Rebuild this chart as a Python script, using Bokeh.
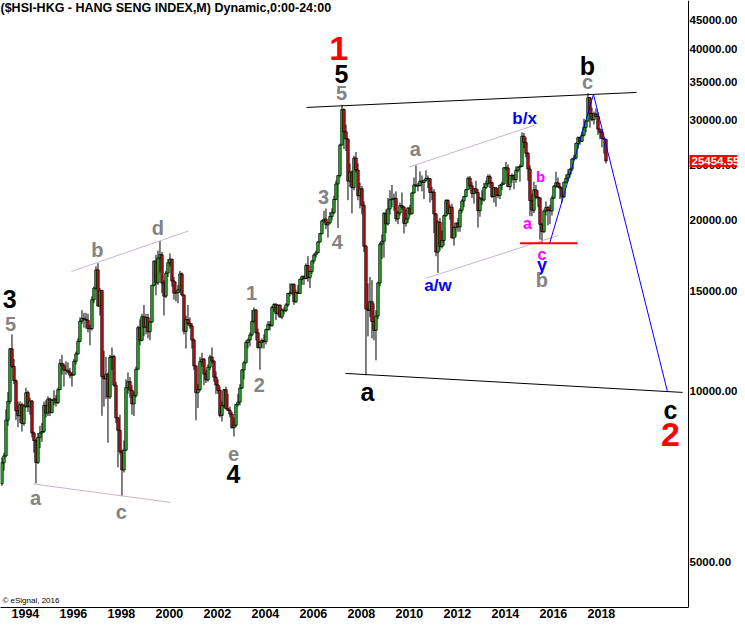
import numpy as np
import pandas as pd
from bokeh.plotting import figure
from bokeh.models import (ColumnDataSource, Label, FixedTicker, NumeralTickFormatter,
                          CustomJSTickFormatter, Range1d)
from bokeh.embed import file_html
from bokeh.resources import INLINE

# ---------------- data: HSI monthly OHLC, Aug 1993 .. Oct 2018 ----------------
start_month = "1993-08"

opens = [
    6880, 7490, 7700, 8900, 9600,
    11888, 11066, 10446, 9250, 9065, 9475, 8780, 9420, 9950, 9400, 9620, 8450,
    8191, 7500, 8300, 8450, 8500, 9450, 9160, 9700, 9180, 9650, 9700, 9550,
    10073, 11200, 11100, 10900, 10900, 10820, 10680, 10700, 11300, 11640, 12250, 13300,
    13451, 13400, 13350, 12900, 12900, 14500, 15196, 16365, 14135, 15050, 10623, 10527,
    10723, 9778, 11480, 11518, 10255, 8985, 8543, 7830, 7275, 7883, 10154, 10402,
    10048, 9506, 9840, 10942, 12951, 12304, 13532, 12973, 13486, 12734, 13256, 15378,
    16962, 15532, 17170, 17406, 15519, 14713, 16155, 16841, 17097, 15648, 14895, 14937,
    15096, 16102, 14787, 12761, 13386, 13174, 13043, 12316, 11091, 9951, 10073, 11279,
    11397, 10726, 10482, 11033, 11497, 11302, 10598, 10268, 10043, 9072, 9441, 10070,
    9321, 9258, 9123, 8634, 8717, 9487, 9577, 10135, 10909, 11230, 12190, 12317,
    12576, 13289, 13908, 12682, 11943, 12199, 12286, 12239, 12851, 13121, 13055, 14060,
    14230, 13721, 14196, 13517, 13909, 13868, 14201, 14880, 14903, 15429, 14386, 14937,
    14876, 15753, 15918, 15805, 16661, 15857, 16267, 16971, 17392, 17543, 18324, 18960,
    19965, 20107, 19652, 19801, 20318, 20635, 21773, 23185, 23984, 27143, 31352, 28643,
    27813, 23456, 24332, 22849, 25755, 24533, 22102, 22731, 21262, 18016, 13969, 13888,
    14387, 13278, 12812, 13576, 15521, 18171, 18379, 20573, 19724, 20955, 21753, 21822,
    21873, 20122, 20609, 21239, 21108, 19765, 20129, 21030, 20536, 22358, 23096, 23008,
    23035, 23447, 23338, 23528, 23721, 23684, 22398, 22440, 20535, 17592, 19864, 17989,
    18434, 20390, 21680, 20556, 21094, 18630, 19441, 19796, 19482, 20840, 21642, 22030,
    22657, 23730, 23020, 22300, 22737, 22392, 20803, 21884, 21731, 22860, 23206, 23882,
    23306, 22035, 22837, 22151, 22134, 23082, 23191, 24757, 24742, 22933, 23998, 23987,
    23605, 24507, 24823, 24901, 28133, 27424, 26250, 24636, 21670, 20846, 22640, 21996,
    21914, 19683, 19112, 20777, 21067, 20815, 20794, 21891, 22977, 23297, 22935, 22790,
    22001, 23361, 23741, 24112, 24615, 25661, 25765, 27324, 27970, 27554, 28246, 29177,
    29919, 32887, 30845, 30093, 30808, 30469, 28955, 28583, 27889, 27789,
]

highs = [
    7650, 7800, 9300, 9980, 11900,
    12599, 11400, 10500, 9600, 9600, 9550, 9500, 10150, 10030, 9750, 9650, 8500,
    8250, 8450, 8700, 8800, 9600, 9650, 9800, 9750, 9700, 10050, 9850, 10150,
    11400, 11600, 11200, 11300, 11250, 11000, 10800, 11400, 11750, 12400, 13500, 13900,
    13750, 13750, 13700, 13100, 14700, 15300, 16600, 16820, 15200, 15100, 11800, 11500,
    10800, 11600, 11950, 11600, 10400, 9000, 9100, 7900, 8200, 10500, 10800, 10600,
    10250, 10000, 11050, 13050, 13400, 13700, 14200, 13700, 13700, 13300, 15400, 17000,
    17400, 17700, 18397, 17600, 15700, 16300, 17100, 17500, 17100, 15900, 15600, 15400,
    16300, 16200, 14800, 13600, 14200, 13500, 13200, 12400, 11100, 10300, 11500, 11700,
    11450, 10900, 11150, 11600, 11950, 11350, 10850, 10500, 10200, 9600, 10100, 10200,
    9900, 9400, 9200, 9000, 9500, 9900, 10300, 10950, 11300, 12300, 12400, 12700,
    13900, 14058, 13950, 12900, 12300, 12400, 12600, 12900, 13300, 13300, 14150, 14300,
    14300, 14200, 14200, 14000, 14050, 14300, 14900, 15500, 15500, 15500, 15100, 15400,
    15800, 16000, 16000, 16800, 17300, 16300, 17000, 17500, 17700, 18400, 19000, 20050,
    20800, 21000, 19900, 20700, 21000, 22100, 23500, 24000, 27300, 31958, 31500, 29500,
    27900, 25200, 24500, 26000, 26387, 25200, 23300, 23000, 21600, 18100, 15500, 15900,
    15700, 14300, 13900, 15600, 18300, 18900, 20700, 20900, 21900, 22600, 23100, 22300,
    22500, 20800, 21500, 22400, 21200, 20900, 21100, 21300, 22400, 23800, 24988, 23300,
    24400, 24000, 23600, 24500, 24000, 23750, 22900, 22700, 20600, 20000, 20200, 19200,
    20500, 21800, 21800, 21300, 21400, 19500, 19800, 20200, 21000, 21800, 22100, 22700,
    23900, 23950, 23350, 22800, 23500, 22700, 22000, 22600, 23300, 23500, 24100, 24100,
    23400, 22900, 22900, 22800, 23100, 23400, 24800, 25362, 25100, 24000, 24200, 24100,
    24900, 24900, 25100, 28588, 28500, 28000, 26400, 25000, 22300, 23400, 23100, 22600,
    21950, 19800, 20900, 21600, 21200, 21300, 22100, 23100, 24364, 23800, 23300, 22900,
    23400, 24100, 24600, 24700, 25700, 26100, 27400, 28100, 28100, 28700, 30200, 30000,
    33484, 33000, 31600, 31100, 31500, 31000, 29000, 28900, 28000, 27800,
]

lows = [
    6820, 7250, 7650, 8700, 9500,
    11000, 10300, 8900, 8650, 8800, 8500, 8700, 9350, 9200, 9100, 8300, 7800,
    6890, 7450, 7950, 8150, 8450, 9000, 9050, 9050, 9150, 9450, 9400, 9500,
    10050, 10700, 10200, 10700, 10750, 10550, 10200, 10650, 11150, 11600, 12200, 13150,
    12950, 12900, 12700, 12055, 12800, 14300, 15100, 14100, 13600, 9059, 9400, 9700,
    8121, 9700, 10900, 10200, 8800, 7350, 7750, 6544, 7200, 7850, 9900, 9750,
    9100, 9050, 9750, 10900, 12050, 12250, 12500, 12600, 12400, 12300, 13200, 15300,
    14763, 15400, 16200, 14900, 13600, 14600, 15900, 16600, 15300, 14500, 14400, 14300,
    14900, 14700, 12600, 11900, 13100, 12900, 11900, 10900, 8894, 9350, 10000, 11050,
    10250, 10350, 10400, 10900, 11200, 10400, 9900, 9900, 9000, 8850, 9350, 9300,
    9250, 9000, 8600, 8331, 8650, 9400, 9450, 10100, 10500, 11200, 11900, 12000,
    12500, 13200, 12300, 11900, 10917, 11900, 11900, 12100, 12800, 12800, 13000, 13800,
    13350, 13600, 13500, 13400, 13650, 13800, 14100, 14700, 14800, 14200, 14300, 14850,
    14850, 15400, 15400, 15750, 15600, 15200, 16100, 16800, 17200, 17500, 18300, 18900,
    19800, 19300, 18659, 19700, 20000, 20500, 21700, 19386, 23800, 27100, 26700, 26500,
    21709, 22900, 20572, 22600, 24300, 21700, 21000, 20500, 17600, 10676, 12500, 13500,
    12400, 12300, 11345, 13400, 15300, 17100, 17200, 19000, 19600, 20500, 21100, 20800,
    19900, 19700, 20400, 20900, 18971, 19500, 19800, 20400, 20500, 22300, 22900, 22500,
    22950, 22500, 21800, 23400, 22800, 21500, 21700, 19000, 17300, 16170, 17700, 17850,
    18050, 20300, 20500, 20050, 18600, 18056, 18700, 19100, 19100, 20600, 21100, 22000,
    22650, 22700, 21900, 21400, 22300, 19426, 20300, 21300, 21600, 22700, 22900, 22800,
    21900, 21500, 21137, 21900, 21800, 22600, 23100, 24500, 22900, 22600, 23300, 22700,
    23300, 24300, 23400, 24900, 26800, 25800, 23500, 20368, 20350, 20600, 21800, 21100,
    18500, 18278, 19000, 20400, 19600, 19700, 20400, 21800, 22800, 22800, 21800, 21500,
    21900, 23200, 23400, 23800, 24400, 25500, 25600, 26700, 27200, 27500, 28100, 28600,
    29900, 29129, 29900, 29500, 30400, 28300, 27800, 26900, 26219, 25200,
]

closes = [
    7490, 7700, 8900, 9600, 11888,
    11066, 10446, 9250, 9065, 9475, 8780, 9420, 9950, 9400, 9620, 8450, 8191,
    7500, 8300, 8450, 8500, 9450, 9160, 9700, 9180, 9650, 9700, 9550, 10073,
    11200, 11100, 10900, 10900, 10820, 10680, 10700, 11300, 11640, 12250, 13300, 13451,
    13400, 13350, 12900, 12900, 14500, 15196, 16365, 14135, 15050, 10623, 10527, 10723,
    9778, 11480, 11518, 10255, 8985, 8543, 7830, 7275, 7883, 10154, 10402, 10048,
    9506, 9840, 10942, 12951, 12304, 13532, 12973, 13486, 12734, 13256, 15378, 16962,
    15532, 17170, 17406, 15519, 14713, 16155, 16841, 17097, 15648, 14895, 14937, 15096,
    16102, 14787, 12761, 13386, 13174, 13043, 12316, 11091, 9951, 10073, 11279, 11397,
    10726, 10482, 11033, 11497, 11302, 10598, 10268, 10043, 9072, 9441, 10070, 9321,
    9258, 9123, 8634, 8717, 9487, 9577, 10135, 10909, 11230, 12190, 12317, 12576,
    13289, 13908, 12682, 11943, 12199, 12286, 12239, 12851, 13121, 13055, 14060, 14230,
    13721, 14196, 13517, 13909, 13868, 14201, 14880, 14903, 15429, 14386, 14937, 14876,
    15753, 15918, 15805, 16661, 15857, 16267, 16971, 17392, 17543, 18324, 18960, 19965,
    20107, 19652, 19801, 20318, 20635, 21773, 23185, 23984, 27143, 31352, 28643, 27813,
    23456, 24332, 22849, 25755, 24533, 22102, 22731, 21262, 18016, 13969, 13888, 14387,
    13278, 12812, 13576, 15521, 18171, 18379, 20573, 19724, 20955, 21753, 21822, 21873,
    20122, 20609, 21239, 21108, 19765, 20129, 21030, 20536, 22358, 23096, 23008, 23035,
    23447, 23338, 23528, 23721, 23684, 22398, 22440, 20535, 17592, 19864, 17989, 18434,
    20390, 21680, 20556, 21094, 18630, 19441, 19796, 19482, 20840, 21642, 22030, 22657,
    23730, 23020, 22300, 22737, 22392, 20803, 21884, 21731, 22860, 23206, 23882, 23306,
    22035, 22837, 22151, 22134, 23082, 23191, 24757, 24742, 22933, 23998, 23987, 23605,
    24507, 24823, 24901, 28133, 27424, 26250, 24636, 21670, 20846, 22640, 21996, 21914,
    19683, 19112, 20777, 21067, 20815, 20794, 21891, 22977, 23297, 22935, 22790, 22001,
    23361, 23741, 24112, 24615, 25661, 25765, 27324, 27970, 27554, 28246, 29177, 29919,
    32887, 30845, 30093, 30808, 30469, 28955, 28583, 27889, 27789, 25454.55,
]

last_price = 25454.55
last_price_text = "25454.551"
y_ticks = [5000, 10000, 15000, 20000, 25000, 30000, 35000, 40000, 45000]
x_tick_years = list(range(1994, 2019, 2))
title_text = "($HSI-HKG - HANG SENG INDEX,M) Dynamic,0:00-24:00"
credit_text = "\u00a9 eSignal, 2016"

# ---------------- annotations (Elliott-wave labels, trendlines) ----------------
GRAY, BLUE, MAG, RED, BLK = "#838383", "#0000ff", "#ff00ff", "#ff0000", "#000000"
wave_labels = [
    ("1", 2007.63, 40160, RED, "34px"),
    ("5", 2007.75, 36140, BLK, "25px"),
    ("5", 2007.75, 33470, GRAY, "20px"),
    ("3", 2007.00, 21960, GRAY, "20px"),
    ("4", 2007.58, 18290, GRAY, "20px"),
    ("b", 1997.58, 17710, GRAY, "20px"),
    ("d", 2000.10, 19400, GRAY, "20px"),
    ("3", 1993.92, 14520, BLK, "25px"),
    ("5", 1993.96, 13150, GRAY, "20px"),
    ("a", 1995.00, 6481, GRAY, "20px"),
    ("c", 1998.58, 6123, GRAY, "20px"),
    ("e", 2003.25, 7746, GRAY, "20px"),
    ("4", 2003.25, 7143, BLK, "25px"),
    ("1", 2004.00, 14877, GRAY, "20px"),
    ("2", 2004.33, 10246, GRAY, "20px"),
    ("a", 2008.83, 9960, BLK, "25px"),
    ("a", 2010.83, 26670, GRAY, "20px"),
    ("b/x", 2015.38, 30240, BLUE, "17px"),
    ("a/w", 2011.77, 15340, BLUE, "17px"),
    ("b", 2016.04, 23900, MAG, "15px"),
    ("a", 2015.50, 19760, MAG, "16px"),
    ("c", 2016.10, 17425, MAG, "16px"),
    ("y", 2016.10, 16665, BLUE, "18px"),
    ("b", 2016.10, 15680, GRAY, "20px"),
    ("b", 2018.00, 37340, BLK, "25px"),
    ("c", 2018.00, 34990, GRAY, "20px"),
    ("c", 2021.46, 9259, BLK, "25px"),
    ("2", 2021.46, 8400, RED, "34px"),
]
trendlines = [
    # (t0, v0, t1, v1, color, width)
    (2006.29, 31620, 2020.04, 33600, "black", 1),
    (2007.92, 10757, 2021.96, 9960, "black", 1),
    (1996.50, 16264, 2001.38, 19166, "#c8b4d2", 1),
    (1994.92, 6873, 2000.63, 6376, "#c8b4d2", 1),
    (2010.58, 24840, 2015.83, 29454, "#c8b4d2", 1),
    (2011.25, 15810, 2016.79, 18820, "#c8b4d2", 1),
    (2015.19, 18240, 2017.58, 18240, "#ff0000", 2),
]
projection_t = [2016.42, 2018.25, 2021.33]
projection_v = [18220, 33330, 10000]

# ---------------- figure ----------------
dates = pd.date_range(start_month, periods=len(closes), freq="MS")
t = np.asarray(dates.year + (dates.month - 1) / 12 + 0.02, dtype=float)
o = np.asarray(opens, dtype=float)
c = np.asarray(closes, dtype=float)
src = ColumnDataSource(dict(
    t=t, h=highs, l=lows,
    top=np.maximum(o, c), bottom=np.minimum(o, c),
    color=["#22c822" if cc >= oo else "#e01010" for oo, cc in zip(o, c)],
))

PX_PER_YEAR = 24.0
FRAME_W, FRAME_H = 737, 607
T0 = 1993.5417
T_SCALE = T0 + 688 / PX_PER_YEAR       # where the price scale sits

p = figure(frame_width=FRAME_W, frame_height=FRAME_H, y_axis_type="log",
           x_range=Range1d(T0, T0 + FRAME_W / PX_PER_YEAR), y_range=Range1d(4165, 48775),
           y_axis_location="right", output_backend="svg", toolbar_location=None,
           min_border_left=0, min_border_top=0, min_border_right=0, min_border_bottom=0)
p.outline_line_color = None
p.grid.visible = False

p.segment(x0="t", y0="h", x1="t", y1="l", source=src, line_color="black", line_width=1)
p.vbar(x="t", top="top", bottom="bottom", width=0.1, source=src,
       fill_color="color", line_color="black", line_width=0.8)

for (t0, v0, t1, v1, col, w) in trendlines:
    p.line([t0, t1], [v0, v1], line_color=col, line_width=w)
p.line(projection_t, projection_v, line_color="#0000ff", line_width=1)

FONT = "Liberation Sans"
for (txt, tx, vy, col, size) in wave_labels:
    p.add_layout(Label(x=tx, y=vy, text=txt, text_align="center", text_baseline="middle",
                       text_color=col, text_font=FONT, text_font_size=size,
                       text_font_style="bold"))

p.add_layout(Label(x=T0, y=48580, text=title_text, text_align="left",
                   text_baseline="top", text_color="black", text_font=FONT,
                   text_font_size="12.5px", text_font_style="bold"))
p.add_layout(Label(x=1993.62, y=4290, text=credit_text, text_align="left",
                   text_baseline="middle", text_color="black", text_font=FONT,
                   text_font_size="8px"))

# price scale (right), pinned at the edge of the chart area
ya = p.yaxis[0]
ya.fixed_location = T_SCALE
ya.ticker = FixedTicker(ticks=y_ticks)
ya.formatter = NumeralTickFormatter(format="0.00")
ya.major_tick_line_color = None
ya.minor_tick_line_color = None
ya.major_tick_out = 0
ya.major_tick_in = 0
ya.minor_tick_out = 0
ya.major_label_text_font = FONT
ya.major_label_text_font_style = "bold"
ya.major_label_text_font_size = "11.5px"
ya.major_label_text_color = "black"
ya.major_label_standoff = 1
ya.axis_line_color = "black"

# time scale (bottom)
xa = p.xaxis[0]
xa.bounds = (T0, T_SCALE)
xa.ticker = FixedTicker(ticks=[yr + 0.58 for yr in x_tick_years])
xa.formatter = CustomJSTickFormatter(code="return String(Math.round(tick - 0.58));")
xa.major_tick_line_color = None
xa.minor_tick_line_color = None
xa.major_tick_out = 0
xa.major_tick_in = 0
xa.minor_tick_out = 0
xa.major_label_text_font = FONT
xa.major_label_text_font_style = "bold"
xa.major_label_text_font_size = "12.5px"
xa.major_label_text_color = "black"
xa.major_label_standoff = 1
xa.axis_line_color = "black"

# last price tag on the price scale
tag_kw = dict(x=T_SCALE + 1 / PX_PER_YEAR, y=last_price, text=last_price_text,
              text_align="left", text_baseline="middle", text_color="white",
              text_font=FONT, text_font_size="11.5px", text_font_style="bold",
              background_fill_color="#ff0000", background_fill_alpha=1.0)
try:
    tag = Label(padding=2, **tag_kw)
except Exception:
    tag = Label(**tag_kw)
p.add_layout(tag)

open("out.html", "w").write(file_html(p, INLINE))
